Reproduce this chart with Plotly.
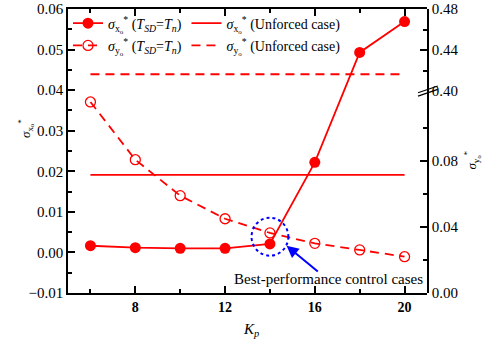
import plotly.graph_objects as go

kp = [6, 8, 10, 12, 14, 16, 18, 20]
sigma_x = [0.00165, 0.00116, 0.0010, 0.0010, 0.0021, 0.0222, 0.0493, 0.0569]
sigma_y = [0.1158, 0.0808, 0.059, 0.045, 0.0364, 0.0301, 0.0261, 0.022]
unforced_x = 0.0191
unforced_y = 0.4164
kp_line = [6, 20]

FONT = "'Liberation Serif', 'Times New Roman', serif"
RED = "#ff0000"

lx = "<i>σ</i><sub>x<sub>o</sub></sub><sup>*</sup>"
ly = "<i>σ</i><sub>y<sub>o</sub></sub><sup>*</sup>"
tsd = " (<i>T</i><sub><i>SD</i></sub>=<i>T</i><sub><i>n</i></sub>)"

fig = go.Figure()
fig.add_trace(go.Scatter(x=kp, y=sigma_x, mode="lines+markers", name=lx + tsd,
                         line=dict(color=RED, width=1.8),
                         marker=dict(symbol="circle", size=11, color=RED),
                         yaxis="y", legend="legend", legendgroup="a"))
fig.add_trace(go.Scatter(x=kp, y=sigma_y, mode="lines+markers", name=ly + tsd,
                         line=dict(color=RED, width=1.8, dash="9px,6px"),
                         marker=dict(symbol="circle-open", size=10, color=RED, line=dict(width=1.3)),
                         yaxis="y2", legend="legend", legendgroup="b"))
fig.add_trace(go.Scatter(x=kp_line, y=[unforced_x] * 2, mode="lines", name=lx + " (Unforced case)",
                         line=dict(color=RED, width=1.8),
                         yaxis="y", legend="legend2", legendgroup="c"))
fig.add_trace(go.Scatter(x=kp_line, y=[unforced_y] * 2, mode="lines", name=ly + " (Unforced case)",
                         line=dict(color=RED, width=1.8, dash="9px,6px"),
                         yaxis="y3", legend="legend2", legendgroup="d"))
# invisible helper so the top frame axis is drawn
fig.add_trace(go.Scatter(x=[5], y=[0], xaxis="x2", yaxis="y", mode="markers",
                         marker=dict(opacity=0), showlegend=False, hoverinfo="skip"))

axis_common = dict(showline=True, linecolor="black", linewidth=1.5, ticks="inside",
                   ticklen=7, tickwidth=1.5, tickcolor="black", showgrid=False, zeroline=False,
                   automargin=False, tickfont=dict(family=FONT, size=15, color="black"))
minor_common = dict(ticks="inside", ticklen=4, tickwidth=1.5, tickcolor="black")

BREAK = 0.711
fig.update_layout(
    width=491, height=343,
    margin=dict(l=68, r=64, t=9, b=50, autoexpand=False),
    paper_bgcolor="white", plot_bgcolor="rgba(0,0,0,0)",
    font=dict(family=FONT, size=13, color="black"),
    xaxis=dict(range=[5, 21], tickvals=[8, 12, 16, 20], mirror=False,
               minor=dict(tickvals=[6, 10, 14, 18], **minor_common),
               **{**axis_common, "tickfont": dict(family=FONT, size=14, color="black", weight="bold")}),
    xaxis2=dict(range=[5, 21], tickvals=[8, 12, 16, 20], overlaying="x", side="top", anchor="y",
                showticklabels=False, minor=dict(tickvals=[6, 10, 14, 18], **minor_common),
                **axis_common),
    yaxis=dict(range=[-0.01, 0.06], dtick=0.01, tick0=0, tickformat=".2f", domain=[0, 1],
               minor=dict(dtick=0.005, tick0=0, **minor_common),
               **axis_common),
    yaxis2=dict(range=[0, 0.1224], tickvals=[0, 0.04, 0.08], tickformat=".2f", domain=[0, BREAK],
                side="right", anchor="x",
                minor=dict(tickvals=[0.02, 0.06, 0.10], **minor_common),
                **axis_common),
    yaxis3=dict(range=[0.40, 0.48], tickvals=[0.40, 0.44, 0.48], tickformat=".2f", domain=[BREAK, 1],
                side="right", anchor="x",
                minor=dict(tickvals=[0.42, 0.46], **minor_common),
                **axis_common),
    legend=dict(x=0.0, y=1.005, xanchor="left", yanchor="top", bgcolor="rgba(0,0,0,0)",
                font=dict(family=FONT, size=14), tracegroupgap=1, itemwidth=30),
    legend2=dict(x=0.33, y=1.005, xanchor="left", yanchor="top", bgcolor="rgba(0,0,0,0)",
                 font=dict(family=FONT, size=14), tracegroupgap=1, itemwidth=30),
    showlegend=True,
)

# axis titles
fig.add_annotation(text="<i>K</i><sub><i>p</i></sub>", xref="paper", yref="paper", x=0.51, y=-0.09,
                   yanchor="top", showarrow=False, font=dict(family=FONT, size=15))
fig.add_annotation(text=lx, xref="paper", yref="paper", x=-0.15, y=0.58, textangle=-90,
                   showarrow=False, font=dict(family=FONT, size=13))
fig.add_annotation(text=ly, xref="paper", yref="paper", x=1.156, y=0.468, textangle=-90,
                   showarrow=False, font=dict(family=FONT, size=13))

# highlighted region
fig.add_shape(type="circle", xref="x", yref="y", x0=13.18, x1=14.82, y0=-0.0008, y1=0.00855,
              line=dict(color="blue", width=2, dash="dot"))
fig.add_annotation(x=14.74, y=0.00165, ax=16.2, ay=-0.005, axref="x", ayref="y", xref="x", yref="y",
                   text="", showarrow=True, arrowhead=2, arrowsize=1.2, arrowwidth=2, arrowcolor="blue")
fig.add_annotation(x=16.6, y=-0.0065, xref="x", yref="y", text="Best-performance control cases",
                   showarrow=False, font=dict(family=FONT, size=15))

# axis break marks
for dy in (-0.006, 0.006):
    fig.add_shape(type="line", xref="paper", yref="paper", x0=0.975, x1=1.03,
                  y0=BREAK - 0.012 + dy, y1=BREAK + 0.012 + dy, line=dict(color="black", width=1.2))

fig.write_html("out.html")
